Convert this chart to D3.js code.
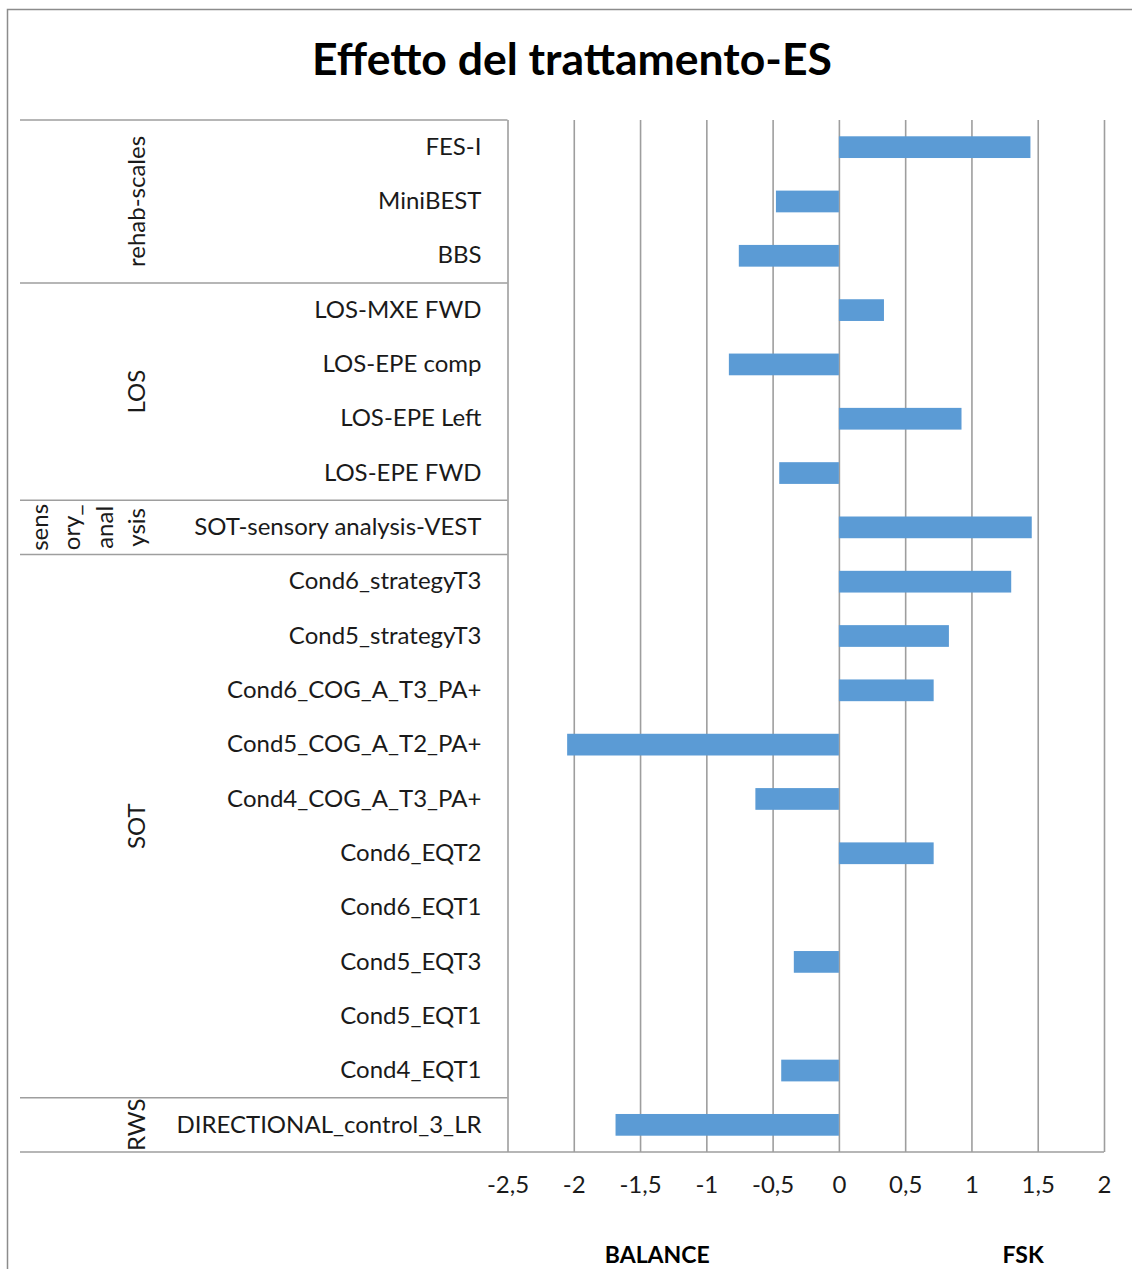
<!DOCTYPE html>
<html>
<head>
<meta charset="utf-8">
<script src="https://cdn.jsdelivr.net/npm/d3@7"></script>
<style>
  html, body { margin: 0; padding: 0; background: #fff; }
  svg { display: block; }
  text { font-family: Lato, "Open Sans", sans-serif; fill: #1a1a1a; }
</style>
</head>
<body>
<svg id="chart" width="1132" height="1269"></svg>
<script>
// Effect sizes per outcome, top to bottom
const categories = [
  "FES-I", "MiniBEST", "BBS",
  "LOS-MXE FWD", "LOS-EPE comp", "LOS-EPE Left", "LOS-EPE FWD",
  "SOT-sensory analysis-VEST",
  "Cond6_strategyT3", "Cond5_strategyT3", "Cond6_COG_A_T3_PA+", "Cond5_COG_A_T2_PA+",
  "Cond4_COG_A_T3_PA+", "Cond6_EQT2", "Cond6_EQT1", "Cond5_EQT3", "Cond5_EQT1", "Cond4_EQT1",
  "DIRECTIONAL_control_3_LR"
];
const values = [
  1.445, -0.475, -0.755,
  0.34, -0.83, 0.925, -0.45,
  1.455,
  1.30, 0.83, 0.715, -2.05,
  -0.63, 0.715, 0, -0.34, 0, -0.435,
  -1.685
];
// Outcome groups: label lines as wrapped on the category axis, and member count
const groupNames = ["rehab-scales", "LOS", "sensory_analysis", "SOT", "RWS"];
const groupLines = [["rehab-scales"], ["LOS"], ["sens", "ory_", "anal", "ysis"], ["SOT"], ["RWS"]];
const groupSizes = [3, 4, 1, 10, 1];
const xTicks = [-2.5, -2, -1.5, -1, -0.5, 0, 0.5, 1, 1.5, 2];
const xDomain = [-2.5, 2];
const chartTitle = "Effetto del trattamento-ES";
const axisNotes = [{ text: "BALANCE", at: -1.37 }, { text: "FSK", at: 1.39 }];

const data = categories.map((c, i) => ({ category: c, value: values[i] }));

const svg = d3.select("#chart");
const plot = { left: 507.5, right: 1104, top: 120, bottom: 1152 };
const gridColor = "#9e9e9e";
const labelSize = "24px";

// Outer chart frame
svg.append("rect")
  .attr("x", 7.5).attr("y", 9.5)
  .attr("width", 1140).attr("height", 1280)
  .attr("fill", "none").attr("stroke", "#8c8c8c").attr("stroke-width", 1.5);

svg.append("text")
  .attr("x", 572).attr("y", 75)
  .attr("text-anchor", "middle")
  .style("font-size", "44.5px").style("font-weight", "700").style("fill", "#000")
  .text(chartTitle);

const x = d3.scaleLinear().domain(xDomain).range([plot.left, plot.right]);
const y = d3.scaleBand().domain(categories)
  .range([plot.top, plot.bottom])
  .paddingInner(0.6).paddingOuter(0.3);

const fmt = d3.formatLocale({ decimal: ",", thousands: ".", grouping: [3], currency: ["", ""], minus: "-" }).format("~g");

// Vertical gridlines
const grid = svg.append("g")
  .attr("transform", `translate(0,${plot.bottom})`)
  .call(d3.axisBottom(x).tickValues(xTicks).tickSize(-(plot.bottom - plot.top)).tickFormat(""));
grid.select(".domain").remove();
grid.selectAll("line").attr("stroke", gridColor).attr("stroke-width", 1.6);

// Bars
svg.append("g").selectAll("rect")
  .data(data)
  .join("rect")
  .attr("x", d => x(Math.min(0, d.value)))
  .attr("y", d => y(d.category))
  .attr("width", d => Math.abs(x(d.value) - x(0)))
  .attr("height", y.bandwidth())
  .attr("fill", "#5b9bd5");

// Value axis labels
const xAxis = svg.append("g")
  .attr("transform", `translate(0,${plot.bottom})`)
  .call(d3.axisBottom(x).tickValues(xTicks).tickSize(0).tickPadding(24).tickFormat(fmt));
xAxis.select(".domain").remove();
xAxis.selectAll("text").style("font-size", labelSize).style("font-family", "Lato, sans-serif").attr("fill", "#1a1a1a");

// Baseline of the value axis, continuing under the category axis
svg.append("line")
  .attr("x1", 20).attr("x2", plot.right)
  .attr("y1", plot.bottom).attr("y2", plot.bottom)
  .attr("stroke", gridColor).attr("stroke-width", 1.6);

// Category axis labels
const yAxis = svg.append("g")
  .attr("transform", `translate(${plot.left},0)`)
  .call(d3.axisLeft(y).tickSize(0).tickPadding(26));
yAxis.select(".domain").remove();
yAxis.selectAll("text").style("font-size", labelSize).style("font-family", "Lato, sans-serif").attr("fill", "#1a1a1a");

// Group separators and rotated group labels
let start = 0;
const bounds = [];
groupSizes.forEach((n, gi) => {
  const first = categories[start];
  const last = categories[start + n - 1];
  const top = gi === 0 ? plot.top : y(first) - y.step() * y.paddingInner() / 2;
  const bottom = gi === groupSizes.length - 1 ? plot.bottom : y(last) + y.bandwidth() + y.step() * y.paddingInner() / 2;
  bounds.push({ name: groupNames[gi], lines: groupLines[gi], top, bottom });
  start += n;
});

svg.append("g").selectAll("line")
  .data(bounds.map(b => b.top))
  .join("line")
  .attr("x1", 20).attr("x2", plot.left)
  .attr("y1", d => d).attr("y2", d => d)
  .attr("stroke", gridColor).attr("stroke-width", 1.6);

const lineGap = 32.3;
const lastLineX = 137;
const gl = svg.append("g");
bounds.forEach(b => {
  const mid = (b.top + b.bottom) / 2;
  b.lines.forEach((t, li) => {
    const cx = lastLineX - (b.lines.length - 1 - li) * lineGap;
    gl.append("text")
      .attr("transform", `translate(${cx + 8},${mid}) rotate(-90)`)
      .attr("text-anchor", "middle")
      .style("font-size", labelSize)
      .text(t);
  });
});

// Notes under the value axis
svg.append("g").selectAll("text")
  .data(axisNotes)
  .join("text")
  .attr("x", d => x(d.at))
  .attr("y", 1263)
  .attr("text-anchor", "middle")
  .style("font-size", "23px").style("font-weight", "700").style("fill", "#000")
  .text(d => d.text);
</script>
</body>
</html>
